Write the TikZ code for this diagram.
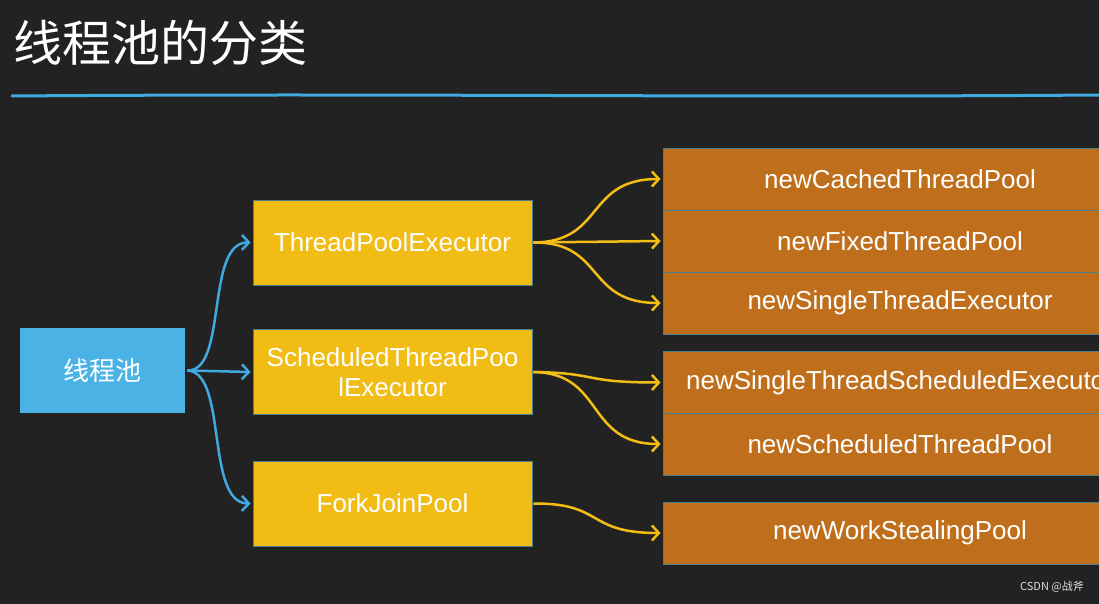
\documentclass[tikz,border=0pt]{standalone}
\usepackage{fontspec}
\setmainfont{Liberation Sans}
\newfontfamily\cjk{Noto Sans CJK SC}
\usetikzlibrary{arrows.meta}
\definecolor{bgc}{HTML}{222222}
\definecolor{bluebox}{HTML}{4BB2E5}
\definecolor{yelbox}{HTML}{F1BD14}
\definecolor{orgbox}{HTML}{BF6F1C}
\definecolor{edgec}{HTML}{4A7F92}
\definecolor{linec}{HTML}{3FA9E0}
\definecolor{yarrow}{HTML}{F2BD15}
\tikzset{
  rootbox/.style={fill=bluebox, draw=none, minimum width=165pt, minimum height=85pt, text=white, font=\cjk\fontsize{26}{30}\selectfont},
  midbox/.style={fill=yelbox, draw=edgec, line width=0.8pt, minimum width=279pt, minimum height=85pt, text=white, align=center, font=\fontsize{26}{30}\selectfont, inner sep=0pt},
  leafbox/.style={fill=orgbox, draw=edgec, line width=0.8pt, minimum width=474pt, minimum height=62pt, text=white, font=\fontsize{26}{30}\selectfont, inner sep=0pt},
  barrow/.style={draw=linec, line width=2.5pt, -{Straight Barb[length=7pt,width=15pt]}},
  yarr/.style={draw=yarrow, line width=2.5pt, -{Straight Barb[length=7pt,width=15pt]}},
}
\begin{document}
\begin{tikzpicture}[x=1pt,y=-1pt]
\useasboundingbox (0,0) rectangle (1099,604);
\clip (0,0) rectangle (1099,604);
\fill[bgc] (0,0) rectangle (1099,604);
% title
\node[anchor=west, text=white, font=\cjk\fontsize{49}{53}\selectfont, inner sep=0pt] (title) at (13,43) {线程池的分类};
\draw[linec, line width=3pt, line cap=round] (12,96) .. controls (400,93) and (700,98) .. (1099,95);
% nodes
\node[rootbox] (root) at (102.5,370.5) {线程池};
\node[midbox] (tpe) at (392.5,242.5) {ThreadPoolExecutor};
\node[midbox] (stpe) at (392.5,372) {ScheduledThreadPoo\\lExecutor};
\node[midbox] (fjp) at (392.5,503.5) {ForkJoinPool};
\node[leafbox] (l1) at (900,179) {newCachedThreadPool};
\node[leafbox] (l2) at (900,241) {newFixedThreadPool};
\node[leafbox] (l3) at (900,303) {newSingleThreadExecutor};
\node[leafbox] (l4) at (900,382.5) {newSingleThreadScheduledExecutor};
\node[leafbox] (l5) at (900,444) {newScheduledThreadPool};
\node[leafbox] (l6) at (900,533) {newWorkStealingPool};
% blue connectors
\coordinate (rs) at ([xshift=2pt]root.east);
\draw[barrow] (rs) .. controls (228,372) and (205,242) .. ([xshift=-2pt]tpe.west);
\draw[barrow] (rs) -- ([xshift=-2pt]stpe.west);
\draw[barrow] (rs) .. controls (228,372) and (205,503) .. ([xshift=-2pt]fjp.west);
% yellow connectors
\coordinate (ts) at ([xshift=1pt]tpe.east);
\draw[yarr] (ts) .. controls (605,242) and (585,179) .. ([xshift=-2pt]l1.west);
\draw[yarr] (ts) -- ([xshift=-2pt]l2.west);
\draw[yarr] (ts) .. controls (605,242) and (585,303) .. ([xshift=-2pt]l3.west);
\coordinate (ss) at ([xshift=1pt]stpe.east);
\draw[yarr] (ss) .. controls (600,373) and (580,382.5) .. ([xshift=-2pt]l4.west);
\draw[yarr] (ss) .. controls (605,373) and (585,444) .. ([xshift=-2pt]l5.west);
\coordinate (fs) at ([xshift=1pt,yshift=0pt]fjp.east);
\draw[yarr] (fs) .. controls (605,503) and (585,533) .. ([xshift=-2pt]l6.west);
% watermark
\node[anchor=east, text=white!75!gray, font=\cjk\fontsize{11}{13}\selectfont, inner sep=0pt] (wm) at (1084,587) {CSDN @战斧};
\end{tikzpicture}
\end{document}
